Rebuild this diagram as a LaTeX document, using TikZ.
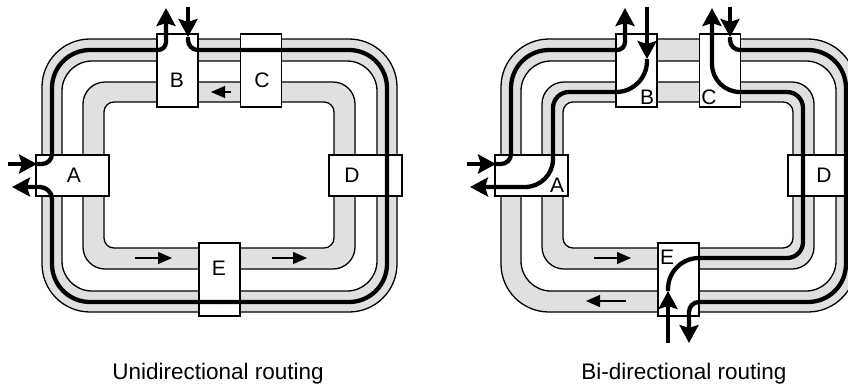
\documentclass[tikz,border=0pt]{standalone}
\usepackage{fontspec}
\setmainfont{Liberation Sans}
\usetikzlibrary{arrows.meta}
\tikzset{
  bandfill/.style={fill=gray!24},
  holefill/.style={fill=white},
  ringline/.style={line width=1.3pt},
  unitbox/.style={draw, fill=white, line width=1.3pt, inner sep=0pt},
  vbox/.style={unitbox, minimum width=41pt, minimum height=73pt},
  hbox/.style={unitbox, minimum width=73pt, minimum height=41pt},
  route/.style={line width=4.3pt},
  bigtip/.style={-{Stealth[length=18pt,width=19pt,inset=3pt]}},
  flowarrow/.style={line width=1.1pt, -{Triangle[length=14pt,width=12pt]}},
  boxlabel/.style={font=\fontsize{21}{24}\selectfont, inner sep=0pt},
  caption/.style={font=\fontsize{22.5}{26}\selectfont, inner sep=0pt},
}
\begin{document}
\begin{tikzpicture}[x=1pt,y=-1pt]
\useasboundingbox (0,0) rectangle (848,386);
\clip (0,0) rectangle (848,386);
\foreach \dx/\n in {0/L,459/R}{
  \begin{scope}[xshift=\dx pt]
    % rings
    \fill[bandfill, rounded corners=48pt] (42,39) rectangle (397,312);
    \fill[holefill, rounded corners=30pt] (62,61) rectangle (377,291);
    \fill[bandfill, rounded corners=22pt] (83,82) rectangle (355,269);
    \fill[holefill, rounded corners=10pt] (104,102) rectangle (334,248);
    \draw[ringline, rounded corners=48pt] (42,39) rectangle (397,312);
    \draw[ringline, rounded corners=30pt] (62,61) rectangle (377,291);
    \draw[ringline, rounded corners=22pt] (83,82) rectangle (355,269);
    \draw[ringline, rounded corners=10pt] (104,102) rectangle (334,248);
    % units
    \node[hbox] (A\n) at (72.5,175.5) {};
    \node[vbox] (B\n) at (177.5,70.5) {};
    \node[vbox] (C\n) at (261,70.5) {};
    \node[hbox] (D\n) at (365.5,175.5) {};
    \node[vbox] (E\n) at (219.5,279.5) {};
  \end{scope}
}
% ---- left: unidirectional ----
\draw[flowarrow] (231,92) -- (211,92);
\draw[flowarrow] (135,258) -- (172,258);
\draw[flowarrow] (272,258) -- (307,258);
% A in -> B out
\draw[route, bigtip] (8,164) -- (37,164);
\draw[route, rounded corners=10pt] (37,164) -- (52,164) -- (52,120);
\draw[route, rounded corners=38pt] (52,120) -- (52,50) -- (120,50);
\draw[route, rounded corners=8pt, bigtip] (120,50) -- (166,50) -- (166,8);
% B in -> A out
\draw[route, bigtip] (188,7) -- (188,37);
\draw[route, rounded corners=10pt] (188,37) -- (188,50) -- (230,50);
\draw[route, rounded corners=38pt] (230,50) -- (387,50) -- (387,170);
\draw[route, rounded corners=38pt] (387,170) -- (387,302) -- (220,302);
\draw[route, rounded corners=38pt] (220,302) -- (52,302) -- (52,240);
\draw[route, rounded corners=12pt, bigtip] (52,240) -- (52,187) -- (12,187);
\node[boxlabel] (lAL) at (74,175) {A};
\node[boxlabel] (lBL) at (177,80) {B};
\node[boxlabel] (lCL) at (262,80) {C};
\node[boxlabel] (lDL) at (352,175) {D};
\node[boxlabel] (lEL) at (219,268) {E};
% ---- right: bi-directional ----
\draw[flowarrow] (594,258) -- (631,258);
\draw[flowarrow] (626,301) -- (586,301);
% A in -> B out
\draw[route, bigtip] (467,164) -- (496,164);
\draw[route, rounded corners=10pt] (496,164) -- (511,164) -- (511,120);
\draw[route, rounded corners=38pt] (511,120) -- (511,50) -- (580,50);
\draw[route, rounded corners=8pt, bigtip] (580,50) -- (625,50) -- (625,8);
% B in -> A out (inner ring)
\draw[route, bigtip] (647,7) -- (647,59);
\draw[route, rounded corners=31pt] (647,59) -- (647,92) -- (590,92);
\draw[route, rounded corners=16pt] (590,92) -- (553,92) -- (553,130);
\draw[route, rounded corners=28pt, bigtip] (553,130) -- (553,187) -- (470,187);
% E in -> C out (inner ring)
\draw[route, bigtip] (668,343) -- (668,291);
\draw[route, rounded corners=31pt] (668,291) -- (668,258) -- (740,258);
\draw[route, rounded corners=16pt] (740,258) -- (803,258) -- (803,180);
\draw[route, rounded corners=16pt] (803,180) -- (803,92) -- (760,92);
\draw[route, rounded corners=28pt, bigtip] (760,92) -- (712,92) -- (712,8);
% C in -> E out (outer ring)
\draw[route, bigtip] (730,7) -- (730,37);
\draw[route, rounded corners=10pt] (730,37) -- (730,50) -- (780,50);
\draw[route, rounded corners=38pt] (780,50) -- (846,50) -- (846,170);
\draw[route, rounded corners=38pt] (846,170) -- (846,302) -- (760,302);
\draw[route, rounded corners=10pt, bigtip] (760,302) -- (689,302) -- (689,343);
\node[boxlabel] (lAR) at (557,185) {A};
\node[boxlabel] (lBR) at (647,97) {B};
\node[boxlabel] (lCR) at (709,97) {C};
\node[boxlabel] (lDR) at (824,175) {D};
\node[boxlabel] (lER) at (667,257) {E};
% captions
\node[caption, anchor=base] (capL) at (218,379) {Unidirectional routing};
\node[caption, anchor=base] (capR) at (684,379) {Bi-directional routing};
\end{tikzpicture}
\end{document}
